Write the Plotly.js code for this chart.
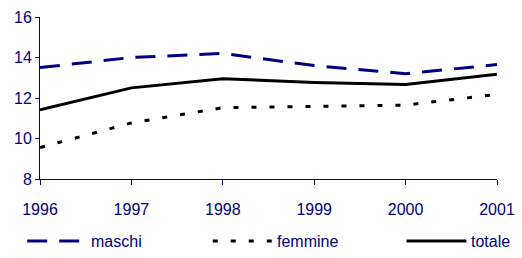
<!DOCTYPE html>
<html><head><meta charset="utf-8">
<script src="https://cdn.plot.ly/plotly-3.0.1.min.js"></script>
<style>html,body{margin:0;padding:0;background:#fff}#c{width:522px;height:258px}</style>
</head><body><div id="c"></div>
<script>
const years = [1996, 1997, 1998, 1999, 2000, 2001];
const maschi = [13.5, 14.0, 14.2, 13.6, 13.2, 13.65];
const femmine = [9.55, 10.77, 11.52, 11.6, 11.65, 12.18];
const totale = [11.42, 12.5, 12.95, 12.77, 12.67, 13.17];
const seriesNames = ['maschi', 'femmine', 'totale'];
const yTicks = [8, 10, 12, 14, 16];

const navy = '#000080';
const font = 'Arial, "Liberation Sans", sans-serif';
const styles = [
  {color: navy, width: 3, dash: '20px,12px'},
  {color: '#000', width: 3, dash: '5px,13px'},
  {color: '#000', width: 3, dash: 'solid'}
];
const data = [maschi, femmine, totale].map((v, i) => ({
  x: years, y: v, type: 'scatter', mode: 'lines', name: seriesNames[i],
  line: styles[i], showlegend: false, hoverinfo: 'skip'
}));

// manual legend (lines + real text)
const legX = [[-0.028, 0.087, 0.109], [0.378, 0.509, 0.516], [0.802, 0.933, 0.94]];
const legY = -0.383;
const shapes = legX.map((p, i) => ({
  type: 'line', xref: 'paper', yref: 'paper', x0: p[0], x1: p[1], y0: legY, y1: legY,
  line: styles[i]
}));
const annotations = legX.map((p, i) => ({
  xref: 'paper', yref: 'paper', x: p[2], y: legY, xanchor: 'left', yanchor: 'middle',
  text: seriesNames[i], showarrow: false, borderpad: 0,
  font: {family: font, size: 16, color: navy}
}));

const layout = {
  width: 522, height: 258,
  margin: {l: 40, r: 24.5, t: 17, b: 79, pad: 0},
  paper_bgcolor: '#fff', plot_bgcolor: '#fff',
  showlegend: false,
  font: {family: font, size: 16, color: navy},
  xaxis: {
    range: [1996, 2001], tickvals: years, ticktext: years.map(String),
    showgrid: false, zeroline: false, showline: true, linecolor: navy, linewidth: 1,
    ticks: 'outside', ticklen: 5, tickcolor: navy, tickwidth: 1, ticklabelstandoff: 11,
    tickfont: {family: font, size: 16, color: navy}, fixedrange: true
  },
  yaxis: {
    range: [8, 16], tickvals: yTicks,
    showgrid: false, zeroline: false, showline: true, linecolor: navy, linewidth: 1,
    ticks: 'outside', ticklen: 4, tickcolor: navy, tickwidth: 1,
    tickfont: {family: font, size: 16, color: navy}, fixedrange: true
  },
  shapes: shapes, annotations: annotations
};
Plotly.newPlot('c', data, layout, {displayModeBar: false, staticPlot: true});
</script></body></html>
